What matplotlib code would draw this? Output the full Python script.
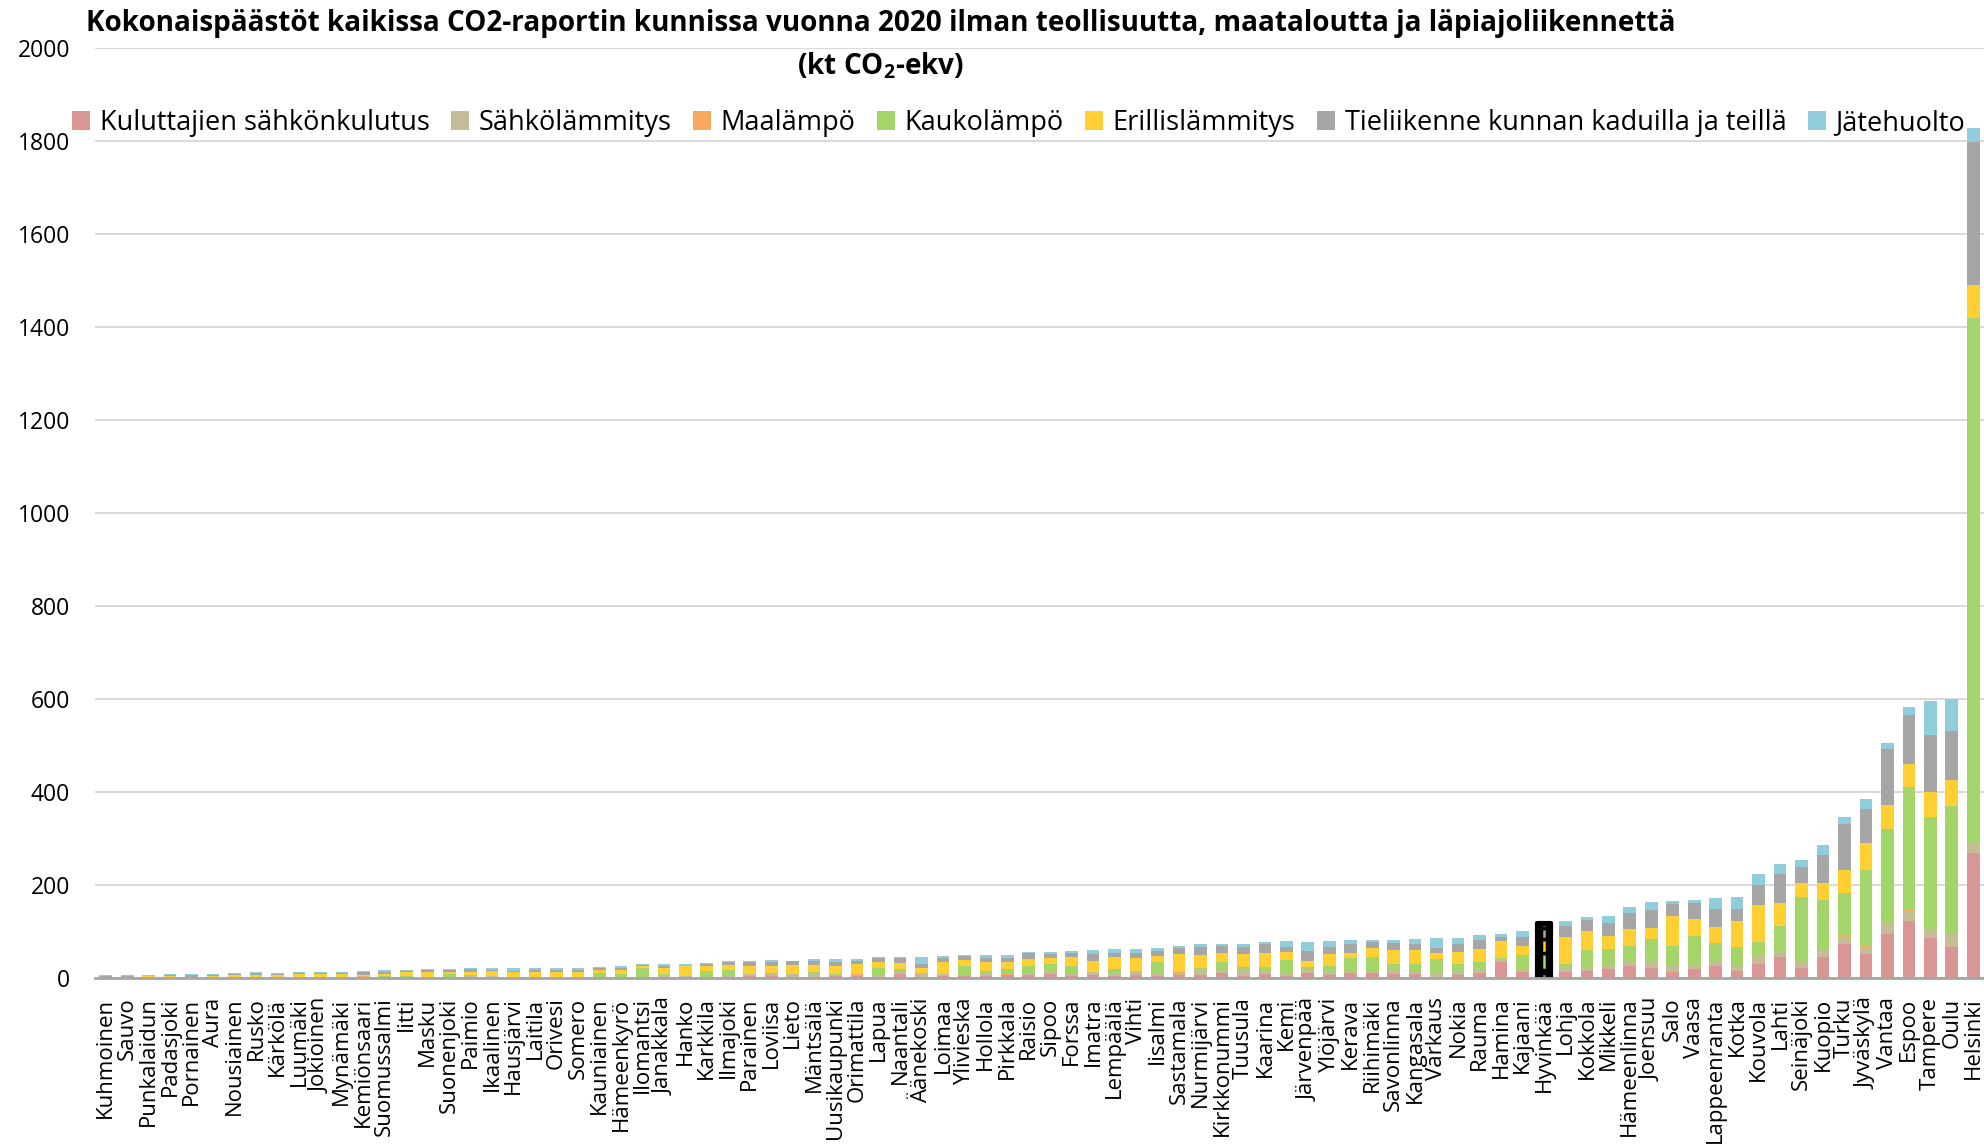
import numpy as np
import matplotlib.pyplot as plt
from matplotlib.patches import Patch

plt.rcParams['font.family'] = ['Open Sans', 'DejaVu Sans']
plt.rcParams['mathtext.fontset'] = 'custom'
plt.rcParams['mathtext.rm'] = 'Open Sans'
plt.rcParams['mathtext.bf'] = 'Open Sans:bold'

kunnat = ['Kuhmoinen', 'Sauvo', 'Punkalaidun', 'Padasjoki', 'Pornainen', 'Aura', 'Nousiainen',
          'Rusko', 'Kärkölä', 'Luumäki', 'Jokioinen', 'Mynämäki', 'Kemiönsaari', 'Suomussalmi',
          'Iitti', 'Masku', 'Suonenjoki', 'Paimio', 'Ikaalinen', 'Hausjärvi', 'Laitila', 'Orivesi',
          'Somero', 'Kauniainen', 'Hämeenkyrö', 'Ilomantsi', 'Janakkala', 'Hanko', 'Karkkila',
          'Ilmajoki', 'Parainen', 'Loviisa', 'Lieto', 'Mäntsälä', 'Uusikaupunki', 'Orimattila',
          'Lapua', 'Naantali', 'Äänekoski', 'Loimaa', 'Ylivieska', 'Hollola', 'Pirkkala', 'Raisio',
          'Sipoo', 'Forssa', 'Imatra', 'Lempäälä', 'Vihti', 'Iisalmi', 'Sastamala', 'Nurmijärvi',
          'Kirkkonummi', 'Tuusula', 'Kaarina', 'Kemi', 'Järvenpää', 'Ylöjärvi', 'Kerava',
          'Riihimäki', 'Savonlinna', 'Kangasala', 'Varkaus', 'Nokia', 'Rauma', 'Hamina', 'Kajaani',
          'Hyvinkää', 'Lohja', 'Kokkola', 'Mikkeli', 'Hämeenlinna', 'Joensuu', 'Salo', 'Vaasa',
          'Lappeenranta', 'Kotka', 'Kouvola', 'Lahti', 'Seinäjoki', 'Kuopio', 'Turku', 'Jyväskylä',
          'Vantaa', 'Espoo', 'Tampere', 'Oulu', 'Helsinki']

sahkonkulutus = [1, 1, 0.5, 0.5, 1, 0.5, 0.7, 0.7, 0.7, 0.7, 0.7, 1, 1, 1, 0.3,
                 0.5, 0.3, 0.8, 1, 0.7, 0.8, 1, 1, 0.5, 0.7, 0.5, 1, 1.2, 0.8, 1.3,
                 3.6, 5, 2.2, 2, 5, 5, 1, 8.6, 2.2, 3.6, 3.6, 5, 5.7, 5.7, 8.6,
                 4.3, 5.7, 4.3, 5.7, 5, 5.7, 5.7, 10, 4.3, 8.6, 4.3, 10,
                 5.7, 10, 10, 7.9, 7.9, 2.2, 5.7, 10, 33.7, 12.2,
                 10, 12.9, 14.3, 18.6, 25.1, 20.8, 12.9, 18.6, 25.1, 14.3, 29.4, 44.4, 20.8,
                 44.4, 72.4, 50.9, 93.9, 121.9, 85.3, 66, 269]
sahkolammitys = [0.5, 0.5, 0.3, 0.5, 1, 0.5, 0.5, 0.5, 0.5, 0.7, 0.7, 1, 2, 0.5, 0.3,
                 0.3, 0.3, 2.8, 2.6, 0.8, 1.4, 1.2, 1.2, 0.5, 0.7, 0.3, 2.6, 2.4, 0.7, 2.5,
                 4.3, 3, 5.7, 5.7, 1, 0.5, 4, 3.6, 7.9, 4.3, 0.5, 5, 0.5, 4.3, 3.6,
                 3.6, 6.5, 5.7, 8.6, 2.9, 3.6, 12.9, 8.6, 14.3, 5.7, 3.6, 8.6,
                 6.5, 2.2, 4.3, 10.8, 4.3, 5.7, 6.5, 6.5, 6.5, 4.3,
                 8, 9.3, 8.6, 8.6, 10, 14.3, 12.2, 8.6, 10.7, 10.8, 17.2, 10.8, 12.9,
                 15.8, 15.1, 15.1, 21.5, 20, 17.9, 27.9, 20]
maalampo = [0.3, 0.5, 0.2, 0.3, 0.3, 0.5, 0.3, 1, 0.3, 0.3, 0.3, 0.3, 0.5, 0.5, 0.2,
            1.5, 0, 0, 0.2, 0.7, 0, 0, 0, 0.5, 0, 0.5, 0, 0, 0, 0,
            0, 2, 0, 0, 0, 2.9, 0, 0, 0, 0, 0, 0, 2.9, 0, 0,
            0, 0, 0, 0, 2.2, 2.9, 0, 0, 0, 0, 0, 0,
            0, 0, 0, 0, 2.2, 0, 0, 0, 0, 0,
            0, 0, 0, 0, 0, 0, 0, 0, 0, 0, 0, 2.1, 0,
            0, 2.8, 2.8, 2.2, 4.3, 0, 2.9, 2]
kaukolampo = [0, 0, 0, 1, 0, 0, 0, 0, 0, 0, 0, 0, 0, 2, 3.5,
              0, 8, 2.1, 0, 0, 0, 0, 0, 8.6, 6.5, 19.4, 4.3, 0, 12.9, 12.9,
              0, 0, 0, 4.3, 2.9, 0, 15.8, 6.5, 0, 0, 21.5, 4.3, 10, 15, 17.2,
              17.2, 0, 8.6, 0, 23.7, 0, 2.2, 15, 4.3, 8.6, 30.1, 4.3,
              12.9, 30.1, 30.1, 10.8, 15, 32.3, 17.2, 17.2, 2.2, 32.3,
              35, 8.6, 36.6, 34.4, 33, 48, 43, 62.4, 38.8, 40.9, 30.1, 53.8, 139.8,
              106.8, 91.8, 162.7, 202.1, 263.8, 242.3, 272.4, 1128]
erillislammitys = [1.2, 1, 3.5, 2, 0.7, 3, 4.5, 4, 4.5, 7, 7, 6, 4, 5, 8,
                   10, 3.6, 6.5, 10.8, 10, 10, 10, 10, 6.5, 8.6, 4.3, 12.9, 21.5, 10.8, 10.8,
                   17.2, 15, 19.4, 15, 17.2, 21.5, 12.9, 12.9, 10.8, 25.8, 12.9, 19.4, 15, 15, 12.9,
                   19.4, 23.7, 25.8, 28, 12.9, 38.7, 28, 19.4, 28, 30.1, 17.2, 12.9,
                   25.8, 10.8, 19.4, 30.1, 30.1, 12.9, 25.8, 28, 36.6, 19.4,
                   30, 56.7, 40.9, 28, 36.6, 23.6, 64.5, 36.6, 34.4, 55.9, 79.6, 49.5, 30.1,
                   36.6, 49.4, 58.1, 51.6, 49.5, 53.8, 55.9, 72]
tieliikenne = [2, 2, 0.5, 2.5, 3.5, 2.3, 3, 4.3, 3, 2, 2, 2.5, 5, 3.5, 2,
               4.3, 4.3, 6.5, 2.2, 2.2, 4.3, 4.3, 4.5, 4.3, 4.3, 2.1, 4.3, 1, 4.3, 6.5,
               8.6, 8.6, 8.6, 8.6, 8.6, 6.5, 8.6, 10.8, 8.6, 8.6, 8.6, 8.6, 8.6, 12.9, 8.6,
               8.6, 15, 8.6, 10.8, 10.8, 12.9, 17.2, 15, 15, 19.4, 10.8, 21.5,
               15, 19.4, 12.9, 15, 12.9, 10.8, 17.2, 19.4, 8.6, 19.4,
               25, 23.6, 23.6, 28, 34.4, 38.7, 25.8, 34.4, 38.7, 25.8, 43, 62.4, 34.4,
               60.2, 99, 73.1, 120.5, 105.4, 122.6, 105.4, 306]
jatehuolto = [1, 1, 1, 1.2, 1.5, 1.2, 1, 1.5, 1, 1.3, 1.3, 1.2, 1.5, 4, 2.2,
              2, 2.1, 2.1, 4.3, 6.5, 4.3, 4.3, 4.3, 2.1, 4.3, 2.1, 4.3, 3.5, 2.1, 2.1,
              2.2, 4.3, 1.4, 4.3, 6.5, 4.3, 2.2, 2.2, 15, 4.3, 2.2, 6.5, 6.5, 2.2, 4.3,
              4.3, 8.6, 8.6, 8.6, 6.5, 4.3, 6.5, 4.3, 6.5, 4.3, 12.9, 19.4,
              12.9, 8.6, 4.3, 6.5, 10.8, 21.5, 12.9, 10.8, 6.5, 12.9,
              9, 10.8, 6.5, 16.4, 12.9, 17.2, 6.5, 6.4, 23.6, 25.8, 23.7, 21.4, 15,
              21.5, 15, 21.5, 12.9, 17.2, 73.1, 68.8, 32]

sarjat = ['Kuluttajien sähkönkulutus', 'Sähkölämmitys', 'Maalämpö', 'Kaukolämpö',
          'Erillislämmitys', 'Tieliikenne kunnan kaduilla ja teillä', 'Jätehuolto']
arvot = [sahkonkulutus, sahkolammitys, maalampo, kaukolampo, erillislammitys, tieliikenne, jatehuolto]
varit = ['#DA9694', '#C4BD97', '#FAAA5E', '#A3D569', '#FFCF33', '#A6A6A6', '#92CDDC']

valittu = 'Hyvinkää'

W, H = 1984, 1144
fig = plt.figure(figsize=(W / 100, H / 100), dpi=100)
ax = fig.add_axes([95 / W, 1 - 978 / H, 1 - 95 / W, 930 / H])

x = np.arange(len(kunnat))
hi = kunnat.index(valittu)
mask = np.array([k != valittu for k in kunnat])
pohja = np.zeros(len(kunnat))
for nimi, v, c in zip(sarjat, arvot, varit):
    v = np.array(v, dtype=float)
    ax.bar(x[mask], v[mask], bottom=pohja[mask], width=0.59, color=c, linewidth=0, zorder=2)
    pohja += v

# selected data point (drawn as in the original: black frame, small markers inside)
yht = pohja[hi]
ax.bar(hi, yht + 4, bottom=-2, width=0.62, color='black', edgecolor='black',
       linewidth=3, joinstyle='round', zorder=3)
b = 0
for v, c in zip(arvot, varit):
    if v[hi] > 0:
        ax.bar(hi, v[hi], bottom=b, width=0.3, color=c, edgecolor='black',
               linewidth=2.5, zorder=4)
    b += v[hi]

ax.set_xlim(-0.5, len(kunnat) - 0.5)
ax.set_ylim(0, 2000)
ax.set_yticks(range(0, 2001, 200))
ax.set_xticks(x)
ax.set_xticklabels(kunnat, rotation=90, fontsize=16)
ax.tick_params(axis='x', length=0, pad=14)
ax.tick_params(axis='y', length=0, pad=18, labelsize=16.5)
ax.yaxis.grid(True, color='#d9d9d9', linewidth=1.4, zorder=0)
ax.set_axisbelow(True)
for s in ['left', 'right', 'top']:
    ax.spines[s].set_visible(False)
ax.spines['bottom'].set_color('#a6a6a6')
ax.spines['bottom'].set_linewidth(2)
ax.spines['bottom'].set_zorder(5)

kasit = [Patch(facecolor=c, edgecolor='none') for c in varit]
fig.legend(kasit, sarjat, loc='center left', bbox_to_anchor=(72 / W, 1 - 123 / H),
           ncol=7, frameon=False, fontsize=19.5, handlelength=0.68, handleheight=0.68,
           handletextpad=0.35, columnspacing=0.78, borderaxespad=0, borderpad=0)

fig.text(881 / W, 1 - 23 / H,
         'Kokonaispäästöt kaikissa CO2-raportin kunnissa vuonna 2020 ilman teollisuutta, maataloutta ja läpiajoliikennettä',
         ha='center', va='center', fontsize=20.1, fontweight='bold')
fig.text(881 / W, 1 - 66 / H, r'(kt CO$_\mathbf{2}$-ekv)', ha='center', va='center',
         fontsize=20.1, fontweight='bold')

fig.savefig('out.png', dpi=100)
